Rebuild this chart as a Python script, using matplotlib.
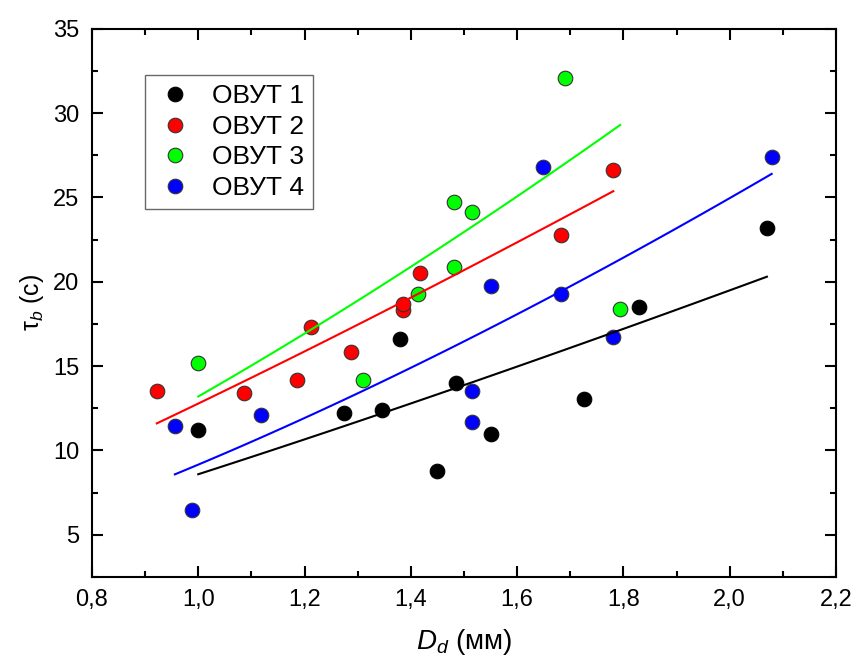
import matplotlib
matplotlib.use('Agg')
import matplotlib.pyplot as plt
import numpy as np
from matplotlib.ticker import MultipleLocator

plt.rcParams['font.family'] = ['Liberation Sans', 'DejaVu Sans']
plt.rcParams['mathtext.fontset'] = 'custom'
plt.rcParams['mathtext.rm'] = 'Liberation Sans'
plt.rcParams['mathtext.it'] = 'Liberation Sans:italic'

# measured droplet diameter D_d (mm) and time tau_b (s) for each ОВУТ
labels = ['ОВУТ 1', 'ОВУТ 2', 'ОВУТ 3', 'ОВУТ 4']
colors = ['#000000', '#ff0000', '#00ff00', '#0000ff']

x1 = [1.00, 1.275, 1.345, 1.38, 1.45, 1.485, 1.55, 1.725, 1.83, 2.07]
y1 = [11.2, 12.2, 12.4, 16.6, 8.8, 14.0, 11.0, 13.05, 18.5, 23.2]

x2 = [0.922, 1.087, 1.185, 1.212, 1.287, 1.386, 1.386, 1.418, 1.683, 1.781]
y2 = [13.5, 13.4, 14.2, 17.3, 15.85, 18.3, 18.7, 20.5, 22.8, 26.65]

x3 = [1.0, 1.31, 1.413, 1.482, 1.482, 1.516, 1.69, 1.794]
y3 = [15.2, 14.2, 19.3, 24.7, 20.9, 24.15, 32.1, 18.4]

x4 = [0.956, 0.988, 1.118, 1.516, 1.516, 1.551, 1.649, 1.683, 1.781, 2.079]
y4 = [11.45, 6.45, 12.1, 13.5, 11.7, 19.75, 26.8, 19.3, 16.7, 27.4]

# power-law trend tau = a * D^b
fit_a = [8.59, 12.78, 13.2, 9.16]
fit_b = [1.182, 1.188, 1.364, 1.446]

xs = [x1, x2, x3, x4]
ys = [y1, y2, y3, y4]

fig = plt.figure(figsize=(8.54, 6.6), dpi=100)
ax = fig.add_axes([0.1077, 0.1258, 0.8712, 0.8307])

for i in range(4):
    edge = '#000000' if i == 0 else '#333333'
    ax.plot(xs[i], ys[i], 'o', ms=10.5, mfc=colors[i], mec=edge, mew=0.8,
            label=labels[i], zorder=2)

for i in range(4):
    xf = np.linspace(min(xs[i]), max(xs[i]), 100)
    ax.plot(xf, fit_a[i] * xf ** fit_b[i], '-', color=colors[i], lw=1.5, zorder=3)

ax.set_xlim(0.8, 2.2)
ax.set_ylim(2.5, 35)
ticks = np.arange(0.8, 2.21, 0.2)
ax.set_xticks(ticks)
ax.set_xticklabels([('%.1f' % t).replace('.', ',') for t in ticks])
ax.xaxis.set_minor_locator(MultipleLocator(0.1))
ax.yaxis.set_major_locator(MultipleLocator(5))
ax.yaxis.set_minor_locator(MultipleLocator(2.5))

ax.tick_params(which='both', direction='in', top=True, right=True, labelsize=17,
               width=1.5)
ax.tick_params(which='major', length=8, pad=9)
ax.tick_params(which='minor', length=4)
for s in ax.spines.values():
    s.set_linewidth(1.5)

ax.set_xlabel('$D_d$ (мм)', fontsize=20, labelpad=11)
ax.set_ylabel('τ$_b$ (с)', fontsize=18, labelpad=5)

leg = ax.legend(loc='upper left', bbox_to_anchor=(0.0712, 0.9155), borderaxespad=0,
                fontsize=19, frameon=True, fancybox=False, handlelength=1.56,
                handletextpad=0.63, labelspacing=0.25, borderpad=0.35)
leg.get_frame().set_edgecolor('#444444')
leg.get_frame().set_linewidth(1.0)

fig.savefig('out.png', dpi=100)
plt.close(fig)
